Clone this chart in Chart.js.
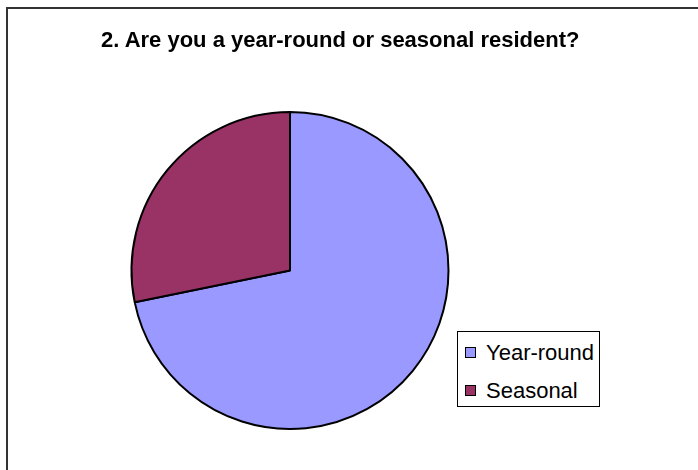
<!DOCTYPE html>
<html>
<head>
<meta charset="utf-8">
<script src="https://cdn.jsdelivr.net/npm/chart.js@4/dist/chart.umd.min.js"></script>
<style>
    body { margin: 0; background: #fff; font-family: "Liberation Sans", Arial, sans-serif; }
    #wrap { position: relative; width: 698px; height: 470px; overflow: hidden; }
    #frame { position: absolute; left: 6px; top: 7px; width: 720px; height: 500px; border: 2px solid #333; box-sizing: border-box; }
    #title { position: absolute; left: 101px; top: 27px; font-weight: bold; font-size: 22px; line-height: 26px; white-space: nowrap; color: #000; }
    #legend { position: absolute; left: 457px; top: 331px; width: 143px; height: 76px; border: 1px solid #000; box-sizing: border-box; background: #fff; }
    .item { position: absolute; left: 7px; font-size: 22px; line-height: 22px; white-space: nowrap; }
    .swatch { position: absolute; left: 0; top: 5px; width: 11px; height: 11px; border: 1px solid #000; box-sizing: border-box; }
    .item span.txt { position: absolute; left: 21px; top: 0; }
    canvas { position: absolute; left: 0; top: 0; }
</style>
</head>
<body>
<div id="wrap">
    <div id="frame"></div>
    <canvas id="chartPie" width="698" height="470"></canvas>
    <div id="title">2. Are you a year-round or seasonal resident?</div>
    <div id="legend"></div>
</div>
<script>
'use strict';

const labels = ['Year-round', 'Seasonal'];
const values = [71.8, 28.2];
const colors = ['#9999FF', '#993366'];

const data = {
    labels: labels,
    datasets: [
        {
            data: values,
            backgroundColor: colors,
            borderColor: '#000',
            borderWidth: 2
        }
    ]
};

const config = {
    type: 'pie',
    data,
    options: {
        responsive: false,
        animation: false,
        layout: {
            padding: { left: 130, right: 248, top: 111, bottom: 40 }
        },
        plugins: {
            legend: { display: false },
            title: { display: false },
            tooltip: { enabled: false }
        }
    }
};

const chartPie = new Chart(document.getElementById('chartPie'), config);

// legend box built from the same labels / colours
let html = '';
for (let i = 0; i < labels.length; i++) {
    html += `
        <div class="item" style="top:${10 + i * 38}px">
            <div class="swatch" style="background:${colors[i]}"></div>
            <span class="txt">${labels[i]}</span>
        </div>`;
}
document.getElementById('legend').innerHTML = html;
</script>
</body>
</html>
